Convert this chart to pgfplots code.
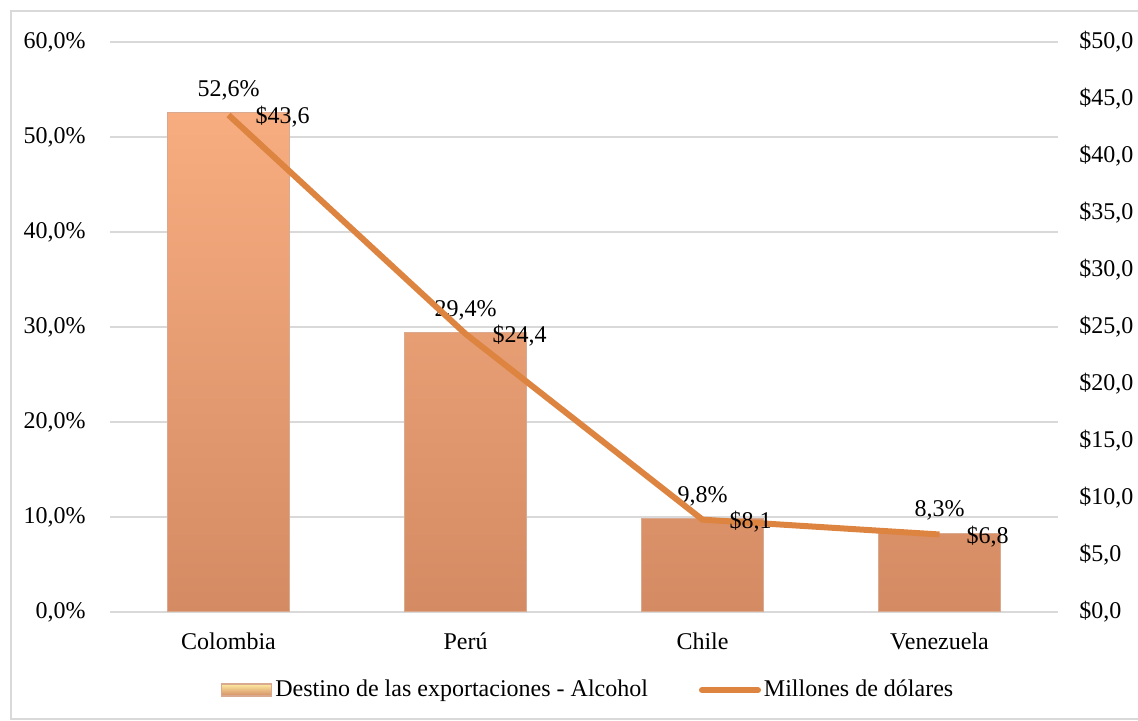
\documentclass[border=0pt]{standalone}
\usepackage{pgfplots}
\pgfplotsset{compat=1.18}
\usepackage{fontspec}
\setmainfont{Liberation Serif}
\definecolor{grid}{HTML}{D9D9D9}
\definecolor{bartop}{HTML}{F8AD80}
\definecolor{barbot}{HTML}{D48B63}
\definecolor{baredge}{HTML}{C98560}
\definecolor{linec}{HTML}{DD8441}

\begin{document}
\fontsize{12}{14.4}\selectfont
\begin{tikzpicture}
\useasboundingbox (0,0) rectangle (569pt,360.5pt);
\draw[grid, line width=0.8pt] (5.5pt,1pt) rectangle (572pt,355pt);

\pgfplotsset{
  base/.style={
    at={(55pt,54.5pt)}, anchor=south west,
    scale only axis, width=474pt, height=285pt,
    xmin=-0.5, xmax=3.5,
    major tick length=0pt,
    /pgf/number format/assume math mode=true,
  },
}

\begin{axis}[base,
  ymin=0, ymax=60, ytick={0,10,...,60},
  axis x line*=bottom, axis y line*=left,
  x axis line style={draw=grid, line width=0.8pt, -},
  y axis line style={draw=none},
  ymajorgrids, grid style={draw=grid, line width=0.8pt},
  xtick={0,1,2,3},
  xticklabels={Colombia,Perú,Chile,Venezuela},
  yticklabel={\pgfmathprintnumber[fixed,fixed zerofill,precision=1,use comma]{\tick}\%},
  yticklabel style={xshift=-8pt},
  xticklabel style={yshift=-6pt},
  ybar, bar width=61pt,
  nodes near coords={\pgfmathprintnumber[fixed,fixed zerofill,precision=1,use comma]{\pgfplotspointmeta}\%},
  nodes near coords style={yshift=2pt, text=black},
  legend style={at={(0.505,-0.137)}, anchor=center, draw=none, fill=none,
    legend columns=2, column sep=0pt,
    nodes={inner sep=1.5pt},
    /tikz/every even column/.append style={column sep=24pt}},
]
\addplot[draw=baredge!70, line width=0.6pt, top color=bartop, bottom color=barbot,
  legend image code/.code={\fill[top color=bartop!50!yellow!50, bottom color=barbot] (0pt,-3pt) rectangle (25pt,3pt);}]
  coordinates {(0,52.6) (1,29.4) (2,9.8) (3,8.3)};
\addlegendentry{Destino de las exportaciones - Alcohol}
\addlegendimage{linec, line width=3pt,
  legend image code/.code={\draw[linec, line width=3pt, line cap=round] (1.5pt,0pt) -- (29.5pt,0pt);}}
\addlegendentry{Millones de dólares}
\end{axis}

\begin{axis}[base,
  ymin=0, ymax=50, ytick={0,5,...,50},
  axis x line=none, axis y line*=right,
  y axis line style={draw=none},
  yticklabel={\$\pgfmathprintnumber[fixed,fixed zerofill,precision=1,use comma]{\tick}},
  yticklabel style={xshift=6.5pt},
  nodes near coords={\$\pgfmathprintnumber[fixed,fixed zerofill,precision=1,use comma]{\pgfplotspointmeta}},
  nodes near coords style={anchor=west, xshift=8pt, yshift=-1pt, text=black},
]
\addplot[linec, line width=3pt, mark=none]
  coordinates {(0,43.6) (1,24.4) (2,8.1) (3,6.8)};
\end{axis}
\end{tikzpicture}
\end{document}
